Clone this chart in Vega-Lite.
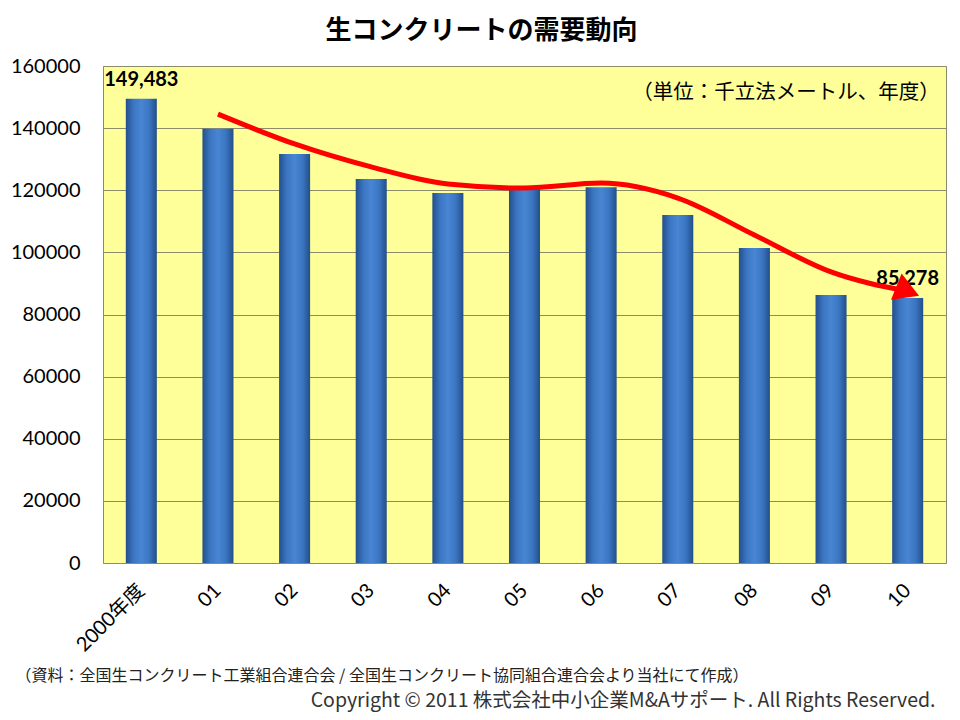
{
  "$schema": "https://vega.github.io/schema/vega-lite/v6.json",
  "width": 843,
  "height": 497,
  "autosize": {"type": "none"},
  "padding": {"left": 103, "top": 66, "right": 14, "bottom": 157},
  "background": "white",
  "config": {
    "view": {"fill": "#FFFF99", "stroke": "#8a8a70", "strokeWidth": 1},
    "font": "Lato"
  },
  "title": {
    "text": "生コンクリートの需要動向",
    "font": "Noto Sans CJK JP",
    "fontSize": 26,
    "fontWeight": "bold",
    "color": "#000000",
    "anchor": "middle",
    "dx": -43,
    "offset": 12
  },
  "datasets": {
    "bars": [
      {"year": "2000年度", "value": 149483, "label": "149,483"},
      {"year": "01", "value": 139800, "label": null},
      {"year": "02", "value": 131700, "label": null},
      {"year": "03", "value": 123600, "label": null},
      {"year": "04", "value": 119100, "label": null},
      {"year": "05", "value": 121400, "label": null},
      {"year": "06", "value": 121000, "label": null},
      {"year": "07", "value": 112000, "label": null},
      {"year": "08", "value": 101400, "label": null},
      {"year": "09", "value": 86300, "label": null},
      {"year": "10", "value": 85278, "label": "85,278"}
    ],
    "trend": [
      {"year": "01", "value": 144500},
      {"year": "02", "value": 134900},
      {"year": "03", "value": 127500},
      {"year": "04", "value": 122000},
      {"year": "05", "value": 120700},
      {"year": "06", "value": 122300},
      {"year": "07", "value": 117500},
      {"year": "08", "value": 105600},
      {"year": "09", "value": 93700},
      {"year": "10", "value": 87500}
    ],
    "note": [
      {"year": "10", "value": 151300, "note": "（単位：千立法メートル、年度）"}
    ]
  },
  "encoding": {
    "x": {
      "field": "year",
      "type": "nominal",
      "sort": null,
      "scale": {
        "domain": ["2000年度", "01", "02", "03", "04", "05", "06", "07", "08", "09", "10"],
        "paddingInner": 0.595,
        "paddingOuter": 0.2975
      },
      "axis": {
        "labelAngle": -45,
        "labelAlign": "right",
        "labelBaseline": "middle",
        "labelFontSize": 20,
        "labelFont": "Lato, Noto Sans CJK JP",
        "labelColor": "#000000",
        "ticks": false,
        "domain": false,
        "labelPadding": 24,
        "title": "（資料：全国生コンクリート工業組合連合会 / 全国生コンクリート協同組合連合会より当社にて作成）",
        "titleX": -88,
        "titleY": 112,
        "titleAlign": "left",
        "titleAngle": 0,
        "titleBaseline": "middle",
        "titleFont": "Noto Sans CJK JP",
        "titleFontSize": 16,
        "titleFontWeight": "normal",
        "titleColor": "#222222"
      }
    },
    "y": {
      "field": "value",
      "type": "quantitative",
      "scale": {"domain": [0, 160000], "nice": false},
      "axis": {
        "values": [0, 20000, 40000, 60000, 80000, 100000, 120000, 140000, 160000],
        "format": "d",
        "grid": true,
        "gridColor": "#8c8c6a",
        "gridWidth": 1,
        "ticks": false,
        "domain": false,
        "labelFontSize": 20,
        "labelFont": "Lato",
        "labelColor": "#000000",
        "labelPadding": 23,
        "title": "Copyright © 2011 株式会社中小企業M&Aサポート. All Rights Reserved.",
        "titleAngle": 0,
        "titleX": 832,
        "titleY": 634,
        "titleAlign": "right",
        "titleBaseline": "middle",
        "titleFont": "Noto Sans CJK JP",
        "titleFontSize": 19.5,
        "titleFontWeight": "normal",
        "titleColor": "#333333"
      }
    }
  },
  "layer": [
    {
      "data": {"name": "bars"},
      "mark": {
        "type": "bar",
        "color": {
          "gradient": "linear",
          "x1": 0, "y1": 0, "x2": 1, "y2": 0,
          "stops": [
            {"offset": 0, "color": "#234f8a"},
            {"offset": 0.25, "color": "#3b76c2"},
            {"offset": 0.5, "color": "#4885d2"},
            {"offset": 0.75, "color": "#3b76c2"},
            {"offset": 1, "color": "#234f8a"}
          ]
        }
      }
    },
    {
      "data": {"name": "bars"},
      "transform": [{"filter": "datum.label != null"}],
      "mark": {
        "type": "text",
        "font": "Lato",
        "fontWeight": "bold",
        "fontSize": 20,
        "baseline": "bottom",
        "dy": -9,
        "color": "#000000"
      },
      "encoding": {"text": {"field": "label"}}
    },
    {
      "data": {"name": "note"},
      "mark": {
        "type": "text",
        "font": "Noto Sans CJK JP",
        "fontSize": 20.5,
        "align": "right",
        "baseline": "middle",
        "dx": 32,
        "color": "#000000"
      },
      "encoding": {"text": {"field": "note"}}
    },
    {
      "data": {"name": "trend"},
      "mark": {
        "type": "line",
        "color": "#ff0000",
        "strokeWidth": 5,
        "interpolate": "monotone"
      }
    },
    {
      "data": {"name": "trend"},
      "transform": [{"filter": "datum.year == '10'"}],
      "mark": {
        "type": "point",
        "shape": "triangle-right",
        "filled": true,
        "color": "#ff0000",
        "opacity": 1,
        "size": 800,
        "angle": 22
      }
    }
  ]
}
